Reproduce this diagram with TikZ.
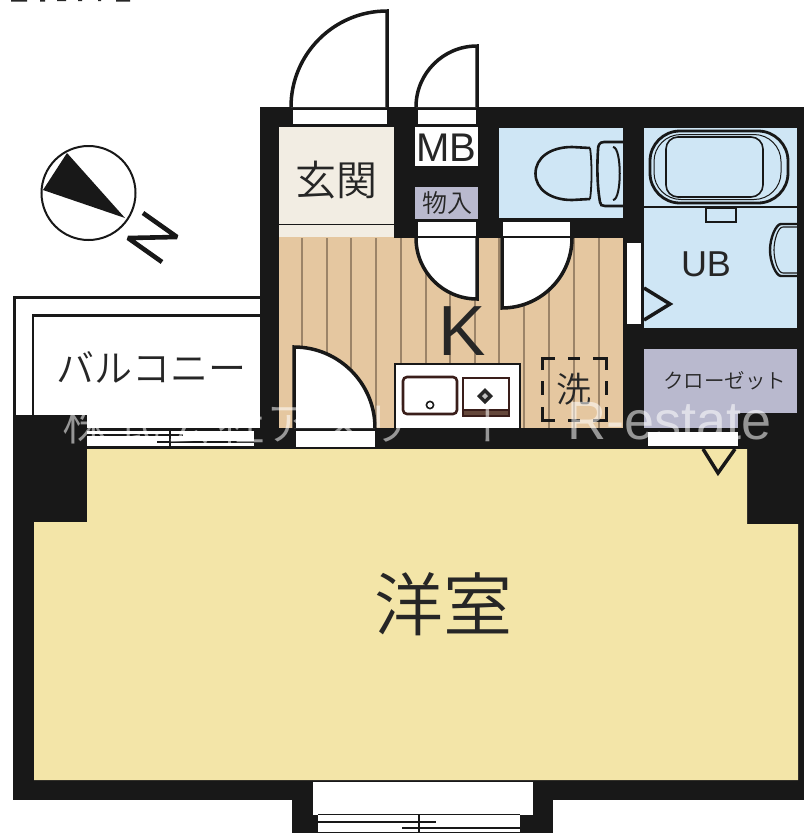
\documentclass[tikz,border=0pt]{standalone}
\usepackage{fontspec}
\setmainfont{Liberation Sans}
\newfontfamily\jpf{Noto Sans CJK JP DemiLight}
\newfontfamily\lat{Liberation Sans}
\definecolor{wallc}{HTML}{181818}
\definecolor{bluec}{HTML}{CFE6F5}
\definecolor{entc}{HTML}{F2EDE3}
\definecolor{yelc}{HTML}{F3E5A8}
\definecolor{floorc}{HTML}{E5C7A0}
\definecolor{grainc}{HTML}{9C8468}
\definecolor{closec}{HTML}{B9B9CE}
\definecolor{sinkc}{HTML}{3A1E1A}
\definecolor{txtc}{HTML}{262626}
\tikzset{
  doorline/.style={draw=wallc,line width=3.5pt,fill=white,line join=miter},
  medl/.style={draw=wallc,line width=2.8pt},
  jlabel/.style={inner sep=0pt,text=txtc,font=\jpf},
  wmark/.style={inner sep=0pt,anchor=base west,text=white,text opacity=0.55,font=\jpf\fontsize{46}{46}\selectfont}
}
\begin{document}
\begin{tikzpicture}[x=1pt,y=-1pt]
\useasboundingbox (0,0) rectangle (804,833);
\fill[white] (0,0) rectangle (804,833);
% clipped top text fragments
\fill[txtc] (11,0) rectangle (27,1.6) (40,0) rectangle (45,1.6) (57,0) rectangle (66,1.2) (78,0) rectangle (82,1.2) (98,0) rectangle (101,1.2) (116,0) rectangle (130,1.6);
% walls
\fill[wallc] (260,107) rectangle (804,449);
\fill[wallc] (13,415) rectangle (87,449);
\fill[wallc] (87,428) rectangle (260,449);
\fill[wallc] (13,449) rectangle (804,800);
\fill[wallc] (292,800) rectangle (553,833);
% balcony lines
\draw[medl] (260,297.5) -- (14.5,297.5) -- (14.5,416);
\draw[medl] (260,315.5) -- (33,315.5) -- (33,416);
% rooms
\fill[yelc] (87,449) -- (747,449) -- (747,524) -- (798,524) -- (798,780) -- (34,780) -- (34,522) -- (87,522) -- cycle;
\fill[entc] (279,127) rectangle (394,237);
\draw[draw=wallc,line width=1pt] (279,224) -- (394,224);
\fill[floorc] (279,237) rectangle (394,428);
\fill[floorc] (394,238) rectangle (623,428);
\foreach \gx in {302,327,351,376,401,426,450,475,499,524,549,574,599}
  \draw[draw=grainc,line width=1.2pt] (\gx,238) -- (\gx,428);
\fill[bluec] (499,128) rectangle (623,218);
\fill[bluec] (644,128) rectangle (797,328);
\fill[closec] (644,349) rectangle (797,413);
\fill[closec] (644,413) rectangle (738,428);
% openings
\fill[white] (293,110) rectangle (387,124);
\fill[white] (418,110) rectangle (476,124);
\fill[white] (415,127) rectangle (478,166);
\fill[closec] (415,187) rectangle (478,219);
\fill[white] (418,222) rectangle (476,236);
\fill[white] (503,222) rectangle (570,236);
\fill[white] (627,243) rectangle (641,324);
\fill[white] (296,431) rectangle (375,447);
\fill[white] (648,432) rectangle (738,446);
% doors
\draw[doorline] (291,107) arc[start angle=180,end angle=270,radius=96] -- (387,107);
\draw[doorline] (416,107) arc[start angle=180,end angle=270,radius=61] -- (477,107);
\draw[doorline] (416,238) arc[start angle=180,end angle=90,radius=61] -- (477,238);
\draw[doorline] (572,238) arc[start angle=0,end angle=90,radius=70] -- (502,238);
\draw[doorline] (375,428) arc[start angle=0,end angle=-90,radius=81] -- (294,428);
% balcony window
\fill[white] (87,431) rectangle (254,446);
\draw[draw=wallc,line width=2.2pt] (87,435) -- (183,435);
\draw[draw=wallc,line width=2.2pt] (157,442) -- (254,442);
\draw[draw=wallc,line width=1.8pt] (170,428) -- (170,449);
% bottom window
\fill[white] (313,782) rectangle (533,815);
\fill[white] (318,815) rectangle (520,832);
\draw[draw=wallc,line width=1.4pt] (318,814.5) -- (520,814.5);
\draw[draw=wallc,line width=2.6pt] (318,822) -- (436,822);
\draw[draw=wallc,line width=2.6pt] (402,828) -- (520,828);
\draw[draw=wallc,line width=2pt] (419,814) -- (419,833);
% triangles
\draw[draw=wallc,line width=3.5pt,line join=miter,fill=bluec] (644,288) -- (670,304) -- (644,320);
\draw[draw=wallc,line width=3.5pt,line join=miter] (703,449) -- (718,473) -- (735,449);
% kitchen
\draw[draw=wallc,line width=1.6pt,fill=white] (395,428) -- (395,364) -- (520,364) -- (520,428);
\draw[draw=sinkc,line width=2.6pt,rounded corners=4pt] (403,377) rectangle (457,414);
\draw[draw=wallc,line width=1.6pt,fill=white] (430,405) circle[radius=3.6];
\fill[sinkc!75!floorc] (463,410) rectangle (509,416);
\draw[draw=sinkc,line width=2.6pt] (463,378) rectangle (509,416);
\draw[draw=sinkc,line width=1.4pt] (463,410) -- (509,410);
\fill[txtc] (485,388) -- (493,396) -- (485,404) -- (477,396) -- cycle;
\fill[white!70!txtc] (485,393) -- (488,396) -- (485,399) -- (482,396) -- cycle;
% washer marker
\draw[draw=wallc,line width=3pt] (542,370) -- (542,358) -- (555,358) (568,358) -- (580,358) (593,358) -- (606,358) -- (606,370)
  (542,381) -- (542,395) (606,381) -- (606,395)
  (542,407) -- (542,420) -- (555,420) (568,420) -- (580,420) (593,420) -- (606,420) -- (606,407);
% bath
\draw[draw=wallc,line width=2.8pt,rounded corners=30pt] (650,131) rectangle (788,203);
\draw[draw=wallc,line width=1pt,rounded corners=27pt] (654,134.5) rectangle (781,199.5);
\draw[draw=wallc,line width=1.6pt,rounded corners=12pt] (666,137) rectangle (763,197);
\draw[draw=wallc,line width=2pt] (644,207) -- (797,207);
\draw[draw=wallc,line width=1.6pt] (706,208) rectangle (736,222);
\draw[draw=wallc,line width=2.4pt,line join=round] (797,224) -- (781,224) .. controls (776,224) and (770,238) .. (770,250) .. controls (770,262) and (776,276) .. (781,276) -- (797,276);
\draw[draw=wallc,line width=1.1pt] (797,227) -- (783,227) .. controls (778,227) and (774,240) .. (774,250) .. controls (774,260) and (778,273) .. (783,273) -- (797,273);
% toilet
\draw[draw=wallc,line width=2.6pt] (590,148) -- (572,147) .. controls (550,147) and (535.5,158) .. (535.5,173.5) .. controls (535.5,189) and (550,200) .. (572,200) -- (590,199);
\draw[draw=wallc,line width=1.8pt] (590,148) .. controls (592,160) and (592,187) .. (590,199);
\draw[draw=wallc,line width=2.6pt] (623,142) -- (604,142) .. controls (599,142) and (598,146) .. (598,150) .. controls (597,165) and (597,185) .. (600,202) .. controls (600,205) and (602,206) .. (605,206) -- (623,206);
\draw[draw=wallc,line width=2pt] (613,147) .. controls (622,147) and (622,200) .. (613,200);
% compass
\draw[draw=wallc,line width=2pt] (88.5,193) circle[radius=47];
\fill[wallc] (67,153) -- (43,190) -- (125,218) -- cycle;
\draw[draw=wallc,line width=4.6pt,line join=bevel] (143,213) -- (177,237) -- (128,238) -- (162,262);
% labels
\node[jlabel,font=\jpf\fontsize{41}{41}\selectfont] (genkan) at (336,180) {玄関};
\node[jlabel,font=\lat\fontsize{40}{40}\selectfont] (mb) at (446.5,148) {MB};
\node[jlabel,font=\jpf\fontsize{25}{25}\selectfont] (mono) at (447,203) {物入};
\node[jlabel,font=\lat\fontsize{36}{36}\selectfont] (ub) at (706,264) {UB};
\node[jlabel,font=\lat\fontsize{71}{71}\selectfont] (k) at (462,331) {K};
\node[jlabel,font=\jpf\fontsize{35}{35}\selectfont] (sen) at (574,389) {洗};
\node[jlabel,font=\jpf\fontsize{20.5}{20.5}\selectfont] (closet) at (724.5,381) {クローゼット};
\node[jlabel,font=\jpf\fontsize{38}{38}\selectfont] (balc) at (151.5,367) {バルコニー};
\node[jlabel,font=\jpf\fontsize{69}{69}\selectfont] (yoshitsu) at (443.5,604) {洋室};
% watermark
\node[wmark] (wm1) at (62,440) {株};
\node[wmark] (wm2) at (114,440) {式};
\node[wmark] (wm3) at (166,440) {会};
\node[wmark] (wm4) at (218,440) {社};
\node[wmark] (wm5) at (266,440) {ア};
\node[wmark] (wm6) at (318,440) {ス};
\node[wmark] (wm7) at (366,440) {リ};
\node[wmark] (wm8) at (418,440) {ー};
\node[wmark] (wm9) at (470,440) {ト};
\node[wmark,font=\lat\fontsize{54}{54}\selectfont] (wm10) at (567,439) {R-estate};
\end{tikzpicture}
\end{document}
